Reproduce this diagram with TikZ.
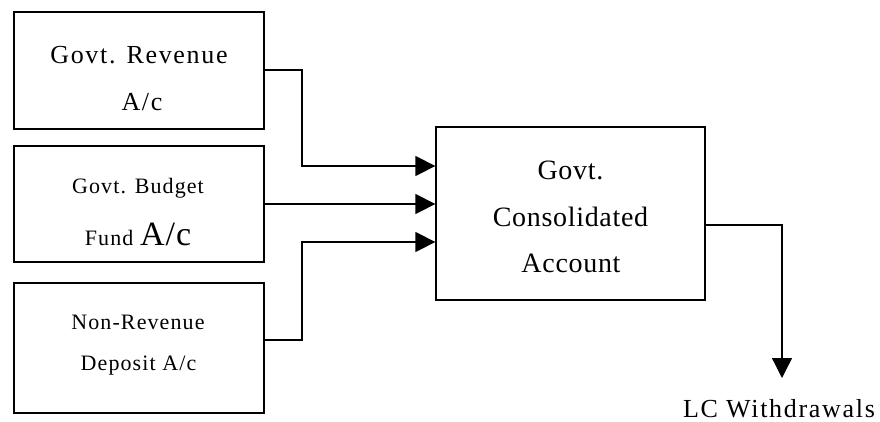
\documentclass[tikz,border=0pt]{standalone}
\usepackage{fontspec}
\setmainfont{Liberation Serif}
\usetikzlibrary{arrows.meta}
\newcommand{\ls}[2]{\fontsize{#1}{#1}\selectfont\addfontfeature{LetterSpace=#2}}
\begin{document}
\begin{tikzpicture}[x=1pt,y=-1pt,
  box/.style={draw, line width=1.3pt, inner sep=0pt},
  txt/.style={inner sep=0pt, anchor=base},
  flow/.style={line width=1.3pt, -{Triangle[length=20pt,width=20pt]}}]
\useasboundingbox (0,0) rectangle (880,421);
% boxes
\node[box, minimum width=250pt, minimum height=117pt] (rev) at (139,70.5) {};
\node[box, minimum width=250pt, minimum height=116pt] (bud) at (139,204) {};
\node[box, minimum width=250pt, minimum height=130pt] (nrd) at (139,348) {};
\node[box, minimum width=269pt, minimum height=173pt] (gca) at (570.5,213.5) {};
% texts
\node[txt, font=\ls{26}{6.5}] (rev1) at (139,63) {Govt. Revenue};
\node[txt, font=\ls{26}{6.5}] (rev2) at (142,110) {A/c};
\node[txt, font=\ls{22}{5}] (bud1) at (138,193) {Govt. Budget};
\node[txt, font=\ls{22}{5}] (bud2) at (138,245) {Fund {\ls{34}{3}A/c}};
\node[txt, font=\ls{22}{5}] (nrd1) at (138,329) {Non-Revenue};
\node[txt, font=\ls{22}{5}] (nrd2) at (138.5,370) {Deposit A/c};
\node[txt, font=\ls{28}{2.5}] (gca1) at (570.5,179) {Govt.};
\node[txt, font=\ls{28}{2.5}] (gca2) at (570.5,226) {Consolidated};
\node[txt, font=\ls{28}{2.5}] (gca3) at (571,272) {Account};
\node[txt, font=\ls{26}{6.5}] (lc) at (779,417) {LC Withdrawals};
% connectors
\coordinate (lctip) at (782,378);
\draw[flow] (rev.east |- 0,70) -| (302,166) -- (gca.west |- 0,166);
\draw[flow] (bud.east) -- (gca.west |- 0,204);
\draw[flow] (nrd.east |- 0,340) -| (302,242) -- (gca.west |- 0,242);
\draw[flow] (gca.east |- 0,225) -| (lctip);
\end{tikzpicture}
\end{document}
